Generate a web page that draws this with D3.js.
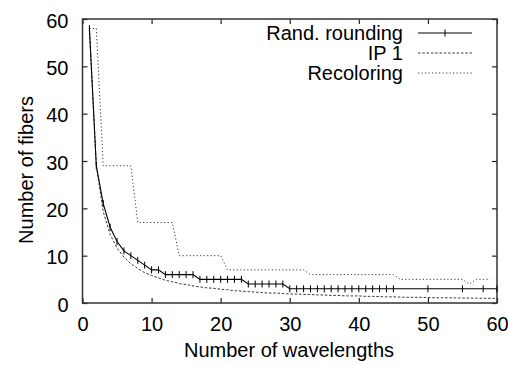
<!DOCTYPE html>
<html>
<head>
<meta charset="utf-8">
<script src="https://cdn.jsdelivr.net/npm/d3@7"></script>
<style>
  html, body { margin: 0; padding: 0; background: #fff; }
  text { font-family: "Liberation Sans", Arial, Helvetica, sans-serif; fill: #000; }
</style>
</head>
<body>
<div id="chart"></div>
<script>
// values
const randX = [1,2,3,4,5,6,7,8,9,10,11,12,13,14,15,16,17,18,19,20,21,22,23,24,25,26,27,28,29,30,
  31,32,33,34,35,36,37,38,39,40,41,42,43,44,45,50,55,58,60];
const randY = [58,29,21,16,13,11,10,9,8,7,7,6,6,6,6,6,5,5,5,5,5,5,5,4,4,4,4,4,4,3,
  3,3,3,3,3,3,3,3,3,3,3,3,3,3,3,3,3,3,3];

const ipX = d3.range(1, 61);
const ipY = [58,29,19.3,14.5,11.6,9.7,8.3,7.3,6.4,5.8,5.3,4.8,4.5,4.1,3.9,3.6,3.4,3.2,3.1,2.9,
  2.8,2.6,2.5,2.4,2.3,2.2,2.1,2.1,2.0,1.9,1.9,1.8,1.8,1.7,1.7,1.6,1.6,1.5,1.5,1.5,
  1.4,1.4,1.35,1.3,1.3,1.25,1.2,1.2,1.2,1.15,1.1,1.1,1.1,1.07,1.05,1.03,1.02,1.0,0.98,0.97];

const recX = [1,2,3,7,8,13,14,20,21,32,33,45,46,55,56,57,59];
const recY = [58,58,29,29,17,17,10,10,7,7,6,6,5,5,4,5,5];

const xTicks = [0,10,20,30,40,50,60];
const yTicks = [0,10,20,30,40,50,60];

const seriesNames = ["Rand. rounding", "IP 1", "Recoloring"];

const W = 508, H = 365;
const margin = {top: 19, right: 11, bottom: 62, left: 82.5};
const width = W - margin.left - margin.right,
  height = H - margin.top - margin.bottom;

const svg = d3.select("#chart").append("svg")
  .attr("width", W)
  .attr("height", H);

const g = svg.append("g")
  .attr("transform", "translate(" + margin.left + "," + margin.top + ")");

const x = d3.scaleLinear().domain([0, 60]).range([0, width]);
const y = d3.scaleLinear().domain([0, 60]).range([height, 0]);

// ticks on all four sides, pointing in (gnuplot style)
const tickLen = 5;
g.append("g").attr("transform", "translate(0," + height + ")")
  .call(d3.axisBottom(x).tickValues(xTicks).tickSize(-tickLen).tickPadding(10))
  .call(a => a.select(".domain").remove())
  .call(a => a.selectAll("text").attr("font-size", 20).attr("dy", "0.9em"));
g.append("g")
  .call(d3.axisTop(x).tickValues(xTicks).tickSize(-tickLen).tickFormat(""))
  .call(a => a.select(".domain").remove());
g.append("g")
  .call(d3.axisLeft(y).tickValues(yTicks).tickSize(-tickLen).tickPadding(14))
  .call(a => a.select(".domain").remove())
  .call(a => a.selectAll("text").attr("font-size", 20).attr("dy", "0.4em"));
g.append("g").attr("transform", "translate(" + width + ",0)")
  .call(d3.axisRight(y).tickValues(yTicks).tickSize(-tickLen).tickFormat(""))
  .call(a => a.select(".domain").remove());
g.selectAll(".tick line").attr("stroke", "#222").attr("stroke-width", 1.2);
g.selectAll(".tick text").attr("font-family", "Liberation Sans, Arial, sans-serif").attr("fill", "#000");

g.append("rect")
  .attr("width", width).attr("height", height)
  .attr("fill", "none").attr("stroke", "#333").attr("stroke-width", 1.5);

const line = d3.line().x(d => x(d[0])).y(d => y(d[1]));

const rand = randX.map((v, i) => [v, randY[i]]);
const ip = ipX.map((v, i) => [v, ipY[i]]);
const rec = recX.map((v, i) => [v, recY[i]]);

g.append("path").datum(ip).attr("d", line)
  .attr("fill", "none").attr("stroke", "#222").attr("stroke-width", 0.9)
  .attr("stroke-dasharray", "2.5,1.8");

g.append("path").datum(rec).attr("d", line)
  .attr("fill", "none").attr("stroke", "#222").attr("stroke-width", 0.9)
  .attr("stroke-dasharray", "1.2,2.3");

g.append("path").datum(rand).attr("d", line)
  .attr("fill", "none").attr("stroke", "#000").attr("stroke-width", 1.1);

g.selectAll(".mk").data(rand).join("line")
  .attr("x1", d => x(d[0])).attr("x2", d => x(d[0]))
  .attr("y1", d => y(d[1]) - 3.5).attr("y2", d => y(d[1]) + 3.5)
  .attr("stroke", "#000").attr("stroke-width", 1);

// legend
const legend = svg.append("g");
const dashes = [null, "2.5,1.8", "1.2,2.3"];
seriesNames.forEach((name, i) => {
  const ly = 33 + i * 20;
  legend.append("text")
    .attr("x", 403).attr("y", ly).attr("dy", "0.35em")
    .attr("text-anchor", "end").attr("font-size", 20)
    .text(name);
  legend.append("line")
    .attr("x1", 418).attr("x2", 472).attr("y1", ly).attr("y2", ly)
    .attr("stroke", i === 0 ? "#000" : "#222").attr("stroke-width", i === 0 ? 1 : 0.9)
    .attr("stroke-dasharray", dashes[i]);
  if (i === 0) {
    legend.append("line")
      .attr("x1", 445).attr("x2", 445).attr("y1", ly - 3.5).attr("y2", ly + 3.5)
      .attr("stroke", "#000").attr("stroke-width", 1);
  }
});

// axis titles
svg.append("text")
  .attr("x", 289).attr("y", 357)
  .attr("text-anchor", "middle").attr("font-size", 20)
  .text("Number of wavelengths");

svg.append("text")
  .attr("transform", "translate(33,170) rotate(-90)")
  .attr("text-anchor", "middle").attr("font-size", 20)
  .text("Number of fibers");
</script>
</body>
</html>
